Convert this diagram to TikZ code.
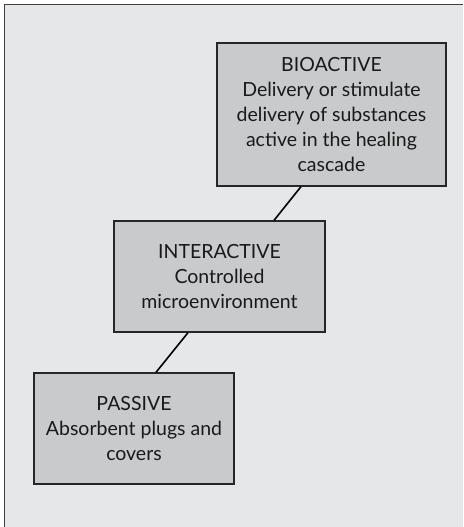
\documentclass[tikz,border=0pt]{standalone}
\usepackage{fontspec}
\setmainfont{Lato}
\definecolor{bgc}{HTML}{E6E7E8}
\definecolor{boxc}{HTML}{C9CACC}
\definecolor{framec}{HTML}{404040}
\tikzset{
  stage/.style={draw=black!85, line width=1.3pt, fill=boxc, align=center,
    inner sep=0pt, font=\fontsize{19.5}{25}\selectfont, text=black!90},
  link/.style={draw=black, line width=1.6pt}
}
\begin{document}
\begin{tikzpicture}[x=1pt,y=-1pt]
\useasboundingbox (0,0) rectangle (463,527);
\fill[white] (0,0) rectangle (463,527);
\fill[bgc] (4.5,4.5) rectangle (463,527);
\draw[framec, line width=1.6pt] (4.5,527) -- (4.5,4.5) -- (463,4.5);
\node[stage, minimum width=229pt, minimum height=143pt] (bio) at (331.5,114.5)
  {BIOACTIVE\\Delivery or stimulate\\delivery of substances\\active in the healing\\cascade};
\node[stage, minimum width=211pt, minimum height=111pt] (inter) at (219.5,276.5)
  {INTERACTIVE\\Controlled\\microenvironment};
\node[stage, minimum width=200pt, minimum height=111pt] (pass) at (134,428.5)
  {PASSIVE\\Absorbent plugs and\\covers};
\coordinate (b1) at (bio.south -| 301,0);
\coordinate (i1) at (inter.north -| 274,0);
\coordinate (i2) at (inter.south -| 188,0);
\coordinate (p1) at (pass.north -| 156,0);
\draw[link] (b1) -- (i1);
\draw[link] (i2) -- (p1);
\end{tikzpicture}
\end{document}
